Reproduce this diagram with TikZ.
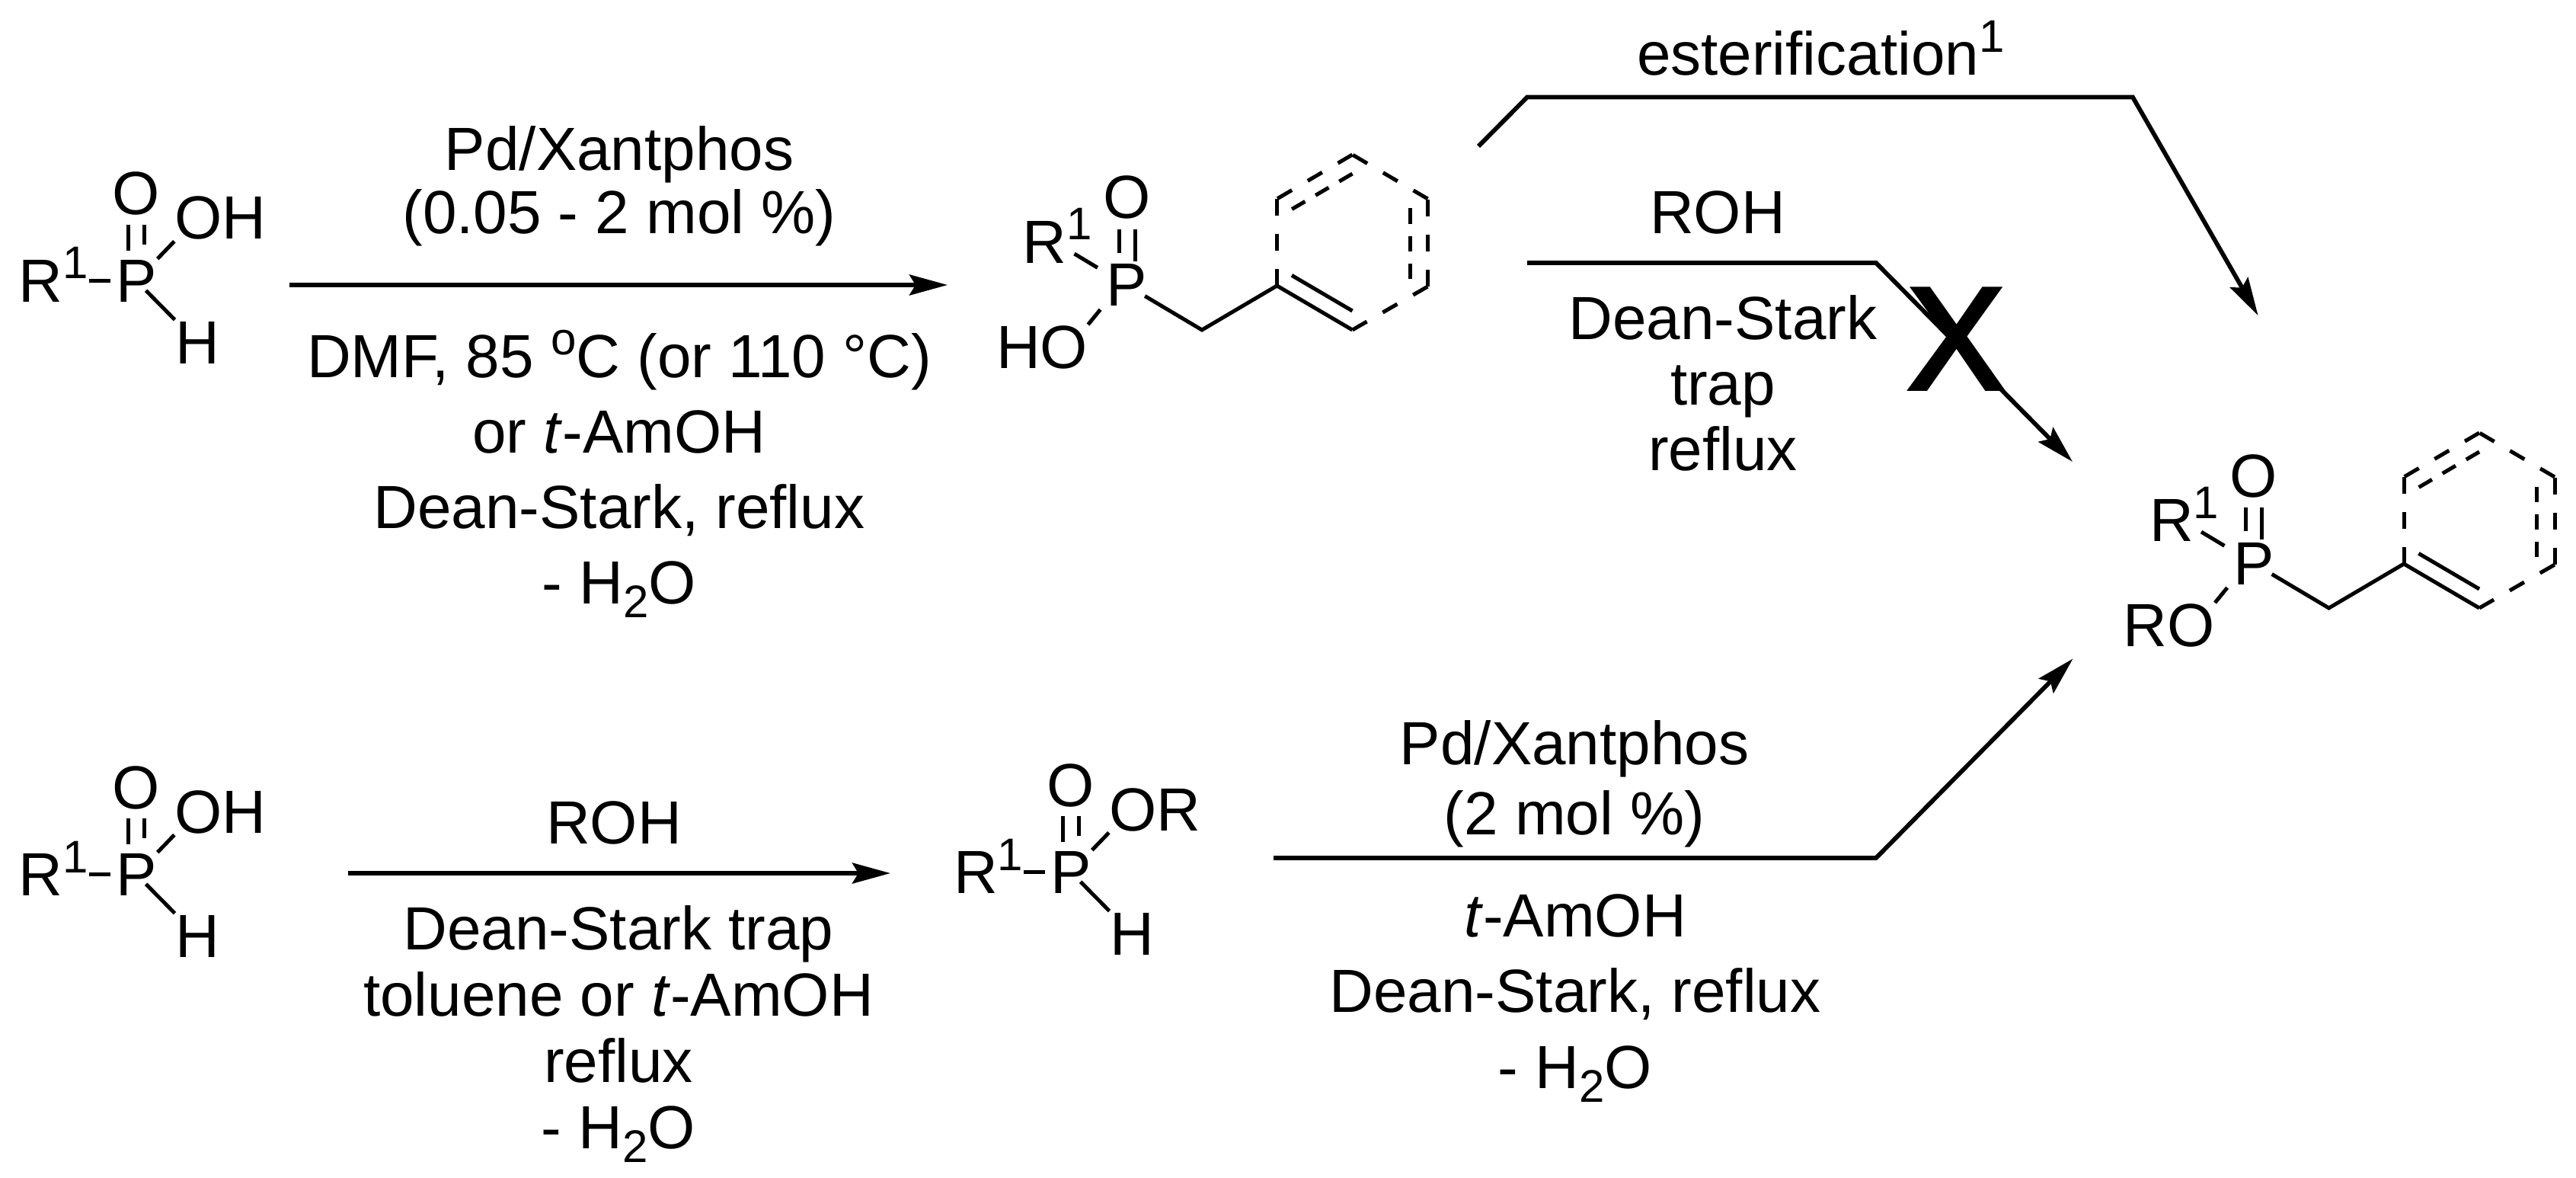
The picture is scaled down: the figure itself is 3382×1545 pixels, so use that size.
\documentclass[tikz,border=0pt]{standalone}
\usepackage{fontspec}
\setmainfont{Liberation Sans}
\newfontfamily\stopfont[FakeBold=3]{Liberation Sans}
\usetikzlibrary{arrows.meta}
\newcommand{\supr}[1]{\raisebox{6pt}{\fontsize{12}{12}\selectfont #1}}
\newcommand{\subr}[1]{\raisebox{-3.6pt}{\fontsize{12}{12}\selectfont #1}}
\tikzset{
every node/.style={font=\fontsize{16}{19.8}\selectfont},
atom/.style={inner sep=0pt,anchor=base},
reagent/.style={inner sep=0pt,anchor=base,align=center,font=\fontsize{16}{#1}\selectfont},
bond/.style={line width=1pt},
outerdash/.style={bond,dash pattern=on 4.4pt off 4.8pt},
innerdash/.style={bond,dash pattern=on 4pt off 3.2pt},
rxn/.style={line width=1.15pt,-{Stealth[length=10pt,width=5.4pt,inset=1.6pt]}},
pics/hphos/.style={code={
  \node[atom] (P) at (0,0) {P};
  \node[atom] (O) at (0,-114) {O};
  \node[atom] (H) at (80,81) {H};
  \node[atom,anchor=base west] (R) at (-155,0) {R\supr{1}};
  \node[atom,anchor=base west] (X) at (49,-82) {#1};
  \draw[bond,shorten >=6.8pt] (P.center -| R.east) -- (P.center);
  \draw[bond,shorten <=7.8pt,shorten >=8.2pt] ([xshift=-2.1pt]P.center) -- ([xshift=-2.1pt]O.center);
  \draw[bond,shorten <=9.4pt,shorten >=8.2pt] ([xshift=2.1pt]P.center) -- ([xshift=2.1pt]O.center);
  \draw[bond,shorten <=8pt,shorten >=8.4pt] (P.center) -- ([xshift=6pt]X.west);
  \draw[bond,shorten <=3.6pt,shorten >=8.4pt] (P.center) -- (H.center);
}},
pics/benzyl/.style={code={
  \node[atom] (P) at (0,0) {P};
  \node[atom] (O) at (0,-115) {O};
  \node[atom,anchor=base west] (R) at (-138,-57) {R\supr{1}};
  \node[atom,anchor=base east] (X) at (-50.5,81) {#1};
  \coordinate (C0) at (98.5,31);
  \coordinate (C1) at (197,-27);
  \coordinate (C2) at (296,31);
  \coordinate (C3) at (395,-26);
  \coordinate (C4) at (395,-141);
  \coordinate (C5) at (296,-199);
  \coordinate (C6) at (197,-141);
  \draw[bond,shorten <=8.4pt,shorten >=8.4pt] ([xshift=-2.1pt]P.center) -- ([xshift=-2.1pt]O.center);
  \draw[bond,shorten <=6.2pt,shorten >=8.4pt] ([xshift=2.1pt]P.center) -- ([xshift=2.1pt]O.center);
  \draw[bond,shorten <=9.2pt,shorten >=9pt] ([xshift=-3.4pt]R.center) -- (P.center);
  \draw[bond,shorten <=8.2pt,shorten >=7.6pt] ([xshift=-1.8pt]P.center) -- ([xshift=7.3pt]X.center);
  \draw[bond,shorten <=5.5pt] (P.center) -- (C0) -- (C1) -- (C2);
  \draw[bond,shorten <=4.5pt] ([yshift=5pt]C1) -- ([yshift=5pt]C2);
  \draw[outerdash] (C2) -- (C3);
  \draw[outerdash] (C3) -- (C4);
  \draw[outerdash] (C4) -- (C5);
  \draw[outerdash] (C5) -- (C6);
  \draw[outerdash] (C6) -- (C1);
  \draw[innerdash,shorten <=2.5pt] ([xshift=-4.7pt]C4) -- ([xshift=-4.7pt]C3);
  \draw[innerdash,shorten >=4.5pt] ([yshift=-5pt]C5) -- ([yshift=-5pt]C6);
}},
}

\begin{document}
\begin{tikzpicture}[x=0.2pt,y=-0.2pt]
        \useasboundingbox (0,0) rectangle (3382,1545);

        \pic (acid) at (179,396) {hphos=OH};
        \pic (acidb) at (179,1175) {hphos=OH};
        \pic (ester) at (1406,1172) {hphos=OR};
        \pic (benz) at (1479.5,402) {benzyl=HO};
        \pic (prod) at (2959,767) {benzyl=RO};

        \coordinate (s1) at (380,374);
        \coordinate (t1) at (1244,374);
        \coordinate (s2) at (457,1146);
        \coordinate (t2) at (1169,1146);
        \coordinate (s3) at (1941,192);
        \coordinate (k3a) at (2005,127.5);
        \coordinate (k3b) at (2800,127.5);
        \coordinate (t3) at (2964.5,414);
        \coordinate (s4) at (2005,345);
        \coordinate (k4) at (2463,345);
        \coordinate (t4) at (2721,606);
        \coordinate (s5) at (1672,1126);
        \coordinate (k5) at (2463,1126);
        \coordinate (t5) at (2721.5,864.5);

        \draw[rxn] (s1) -- (t1);
        \draw[rxn] (s2) -- (t2);
        \draw[rxn] (s3) -- (k3a) -- (k3b) -- (t3);
        \draw[rxn] (s4) -- (k4) -- (t4);
        \draw[rxn] (s5) -- (k5) -- (t5);

        \node[reagent=16.6pt] (top1) at (813,307) {Pd/Xantphos\\(0.05 - 2 mol \%)};
        \node[reagent=19.8pt] (bot1) at (813,792) {DMF, 85 \supr{o}C (or 110 °C)\\or \textit{t}-AmOH\\Dean-Stark, reflux\\- H\subr{2}O};
        \node[atom] (top2) at (806,1107) {ROH};
        \node[reagent=17.4pt] (bot2) at (812,1507) {Dean-Stark trap\\toluene or \textit{t}-AmOH\\reflux\\- H\subr{2}O};
        \node[atom,anchor=base west] (top3) at (2148,99) {esterification\supr{1}};
        \node[atom] (top4) at (2255,306.5) {ROH};
        \node[reagent=17.2pt] (bot4) at (2262,617) {Dean-Stark\\trap\\reflux};
        \node[reagent=18.4pt] (top5) at (2067,1095) {Pd/Xantphos\\(2 mol \%)};
        \node[reagent=19.9pt] (bot5) at (2068,1428) {\textit{t}-AmOH\\Dean-Stark, reflux\\- H\subr{2}O};
        \node[atom,font=\stopfont\fontsize{38}{38}\selectfont] (stop) at (2568,510) {X};
\end{tikzpicture}
\end{document}
